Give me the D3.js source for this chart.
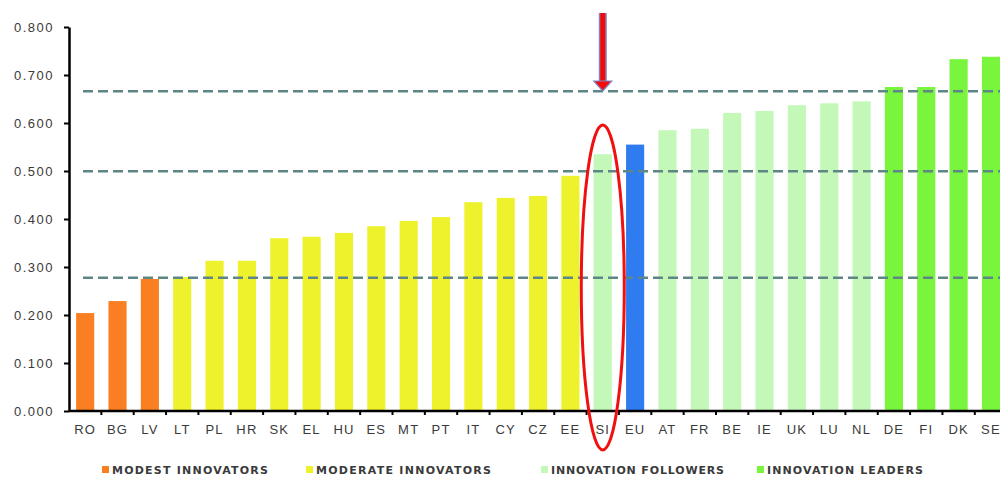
<!DOCTYPE html>
<html><head><meta charset="utf-8">
<script src="https://cdn.jsdelivr.net/npm/d3@7"></script>
<style>body{margin:0;background:#fff}svg{display:block}</style>
</head><body>
<svg id="c" width="1000" height="477"></svg>
<script>
const categories = ["RO","BG","LV","LT","PL","HR","SK","EL","HU","ES","MT","PT","IT","CY","CZ","EE","SI","EU","AT","FR","BE","IE","UK","LU","NL","DE","FI","DK","SE"];
const values = [0.204,0.229,0.275,0.279,0.313,0.313,0.360,0.363,0.371,0.385,0.396,0.404,0.435,0.444,0.448,0.490,0.535,0.555,0.585,0.588,0.621,0.625,0.637,0.641,0.645,0.675,0.675,0.733,0.738];
const groups = ["modest","modest","modest","moderate","moderate","moderate","moderate","moderate","moderate","moderate","moderate","moderate","moderate","moderate","moderate","moderate","follower","eu","follower","follower","follower","follower","follower","follower","follower","leader","leader","leader","leader"];
const legendKeys = ["modest","moderate","follower","leader"];
const legendLabels = ["MODEST INNOVATORS","MODERATE INNOVATORS","INNOVATION FOLLOWERS","INNOVATION LEADERS"];
const yTicks = [0,0.1,0.2,0.3,0.4,0.5,0.6,0.7,0.8];
const thresholds = [0.2775,0.4995,0.666];
const highlight = "SI";

const colors = {modest:"#f97f22",moderate:"#eef22c",follower:"#c4f8b8",leader:"#78f53c",eu:"#2e7cf0"};

const svg = d3.select("#c");
const mLeft = 69, mTop = 27, mBottom = 411;
const step = 32.35;
const x = d3.scaleBand().domain(categories).range([mLeft, mLeft + step*categories.length]).paddingInner(0.44).paddingOuter(0.22);
const y = d3.scaleLinear().domain([0,0.8]).range([mBottom, mTop]);

// bars
svg.append("g").selectAll("rect").data(categories).join("rect")
  .attr("x", d => x(d)).attr("width", x.bandwidth())
  .attr("y", (d,i) => y(values[i])).attr("height", (d,i) => y(0)-y(values[i]))
  .attr("fill", (d,i) => colors[groups[i]]);

// threshold lines
svg.append("g").selectAll("line").data(thresholds).join("line")
  .attr("x1", 83).attr("x2", 1000)
  .attr("y1", d => y(d)).attr("y2", d => y(d))
  .attr("stroke", "#5f8686").attr("stroke-width", 2.5).attr("stroke-dasharray", "10,5");

// y axis
const ya = svg.append("g").attr("transform", `translate(${mLeft},0)`)
  .call(d3.axisLeft(y).tickValues(yTicks).tickFormat(d3.format(".3f")).tickSize(5).tickSizeOuter(0));
ya.select(".domain").attr("stroke","#000").attr("stroke-width",2.5);
ya.selectAll(".tick line").attr("stroke","#000").attr("stroke-width",2);
ya.selectAll("text").attr("x",-15).attr("dy","0.35em").attr("fill","#3a3a3a")
  .style("font-family","Liberation Sans, Arial").style("font-size","13px").style("letter-spacing","1.5px");

// x axis
const xa = svg.append("g").attr("transform", `translate(0,${mBottom})`)
  .call(d3.axisBottom(x).tickSize(0).tickSizeOuter(0));
xa.select(".domain").attr("stroke","#000").attr("stroke-width",2.5).attr("d", `M${mLeft},0H1000`);
xa.selectAll("text").attr("y",14).attr("dy","0.71em").attr("fill","#3a3a3a")
  .style("font-family","Liberation Sans, Arial").style("font-size","13px").style("letter-spacing","1.2px");
// x tick marks between bands
svg.append("g").selectAll("line").data(categories.slice(1)).join("line")
  .attr("x1", d => x(d) - x.step()*x.paddingInner()/2).attr("x2", d => x(d) - x.step()*x.paddingInner()/2)
  .attr("y1", mBottom).attr("y2", mBottom+4).attr("stroke","#000").attr("stroke-width",2);

// arrow
const ax = x(highlight) + x.bandwidth()/2;
const ar = svg.append("g");
ar.append("line").attr("x1",ax).attr("x2",ax).attr("y1",13).attr("y2",82).attr("stroke","#7b86c6").attr("stroke-width",8);
ar.append("line").attr("x1",ax).attr("x2",ax).attr("y1",13).attr("y2",82).attr("stroke","#f50a0a").attr("stroke-width",5);
ar.append("path").attr("d",`M${ax-9},81L${ax+9},81L${ax},91Z`).attr("fill","#f50a0a").attr("stroke","#7b86c6").attr("stroke-width",1.2);

// ellipse
svg.append("ellipse").attr("cx",ax).attr("cy",287.5).attr("rx",21.5).attr("ry",162.5)
  .attr("fill","none").attr("stroke","#f01010").attr("stroke-width",3);

// legend
const lx = [102,306,541,757];
const lw = [156,175,173,156];
const lg = svg.append("g");
legendKeys.forEach((k,i) => {
  lg.append("rect").attr("x",lx[i]).attr("y",466).attr("width",7).attr("height",7).attr("fill",colors[k]);
  lg.append("text").attr("x",lx[i]+10).attr("y",470).attr("dy","0.35em").text(legendLabels[i])
    .attr("textLength", lw[i]).attr("lengthAdjust","spacing")
    .attr("fill","#3a3a3a").style("font-family","DejaVu Sans").style("font-size","11px").style("font-weight","bold");
});
</script>
</body></html>
